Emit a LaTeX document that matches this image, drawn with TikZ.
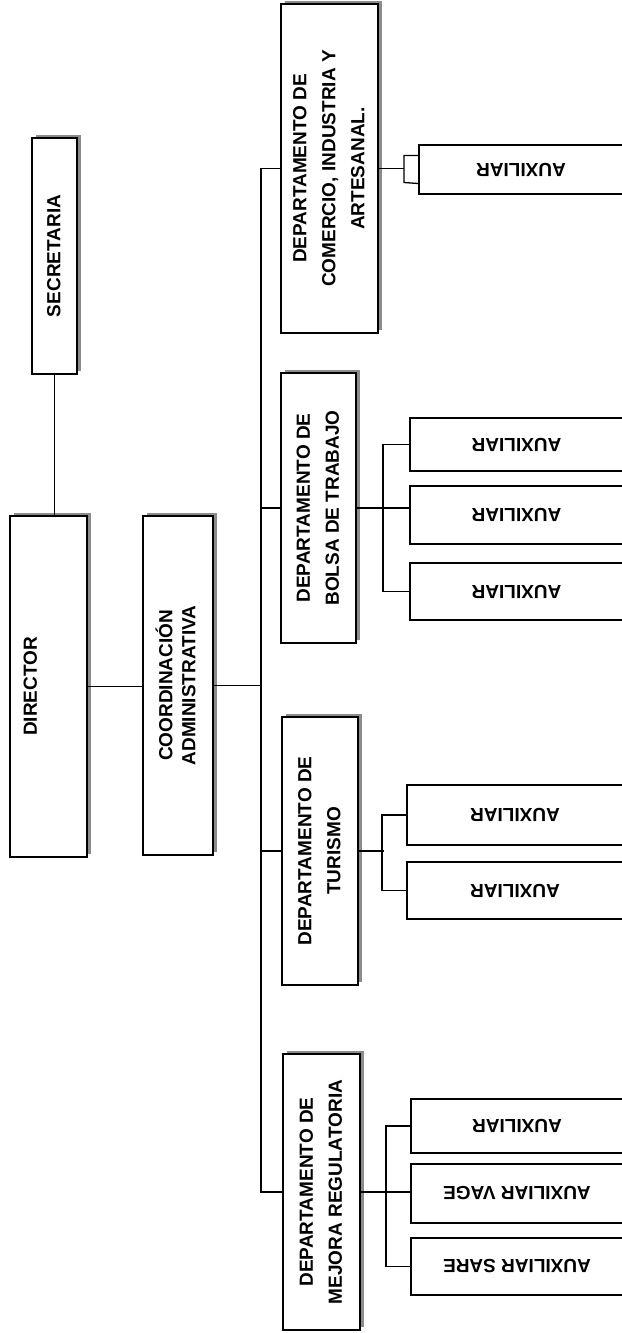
\documentclass[tikz,border=0pt]{standalone}
\usepackage{fontspec}
\setmainfont{Liberation Sans}
\usetikzlibrary{shadows}

% rotated box texts
\newcommand{\vlabel}[1]{\rotatebox{90}{\begin{tabular}{@{}c@{}}#1\end{tabular}}}
\newcommand{\flipped}[1]{\rotatebox{180}{#1}}

\tikzset{
  unitbox/.style={draw, line width=1.8pt, fill=white, inner sep=0pt,
    font=\bfseries\fontsize{19}{29}\selectfont,
    drop shadow={shadow xshift=3.5pt, shadow yshift=3.5pt, fill=black!45, opacity=1}},
  auxbox/.style={draw, line width=1.8pt, fill=white, inner sep=0pt,
    font=\bfseries\fontsize{19}{29}\selectfont},
  link/.style={line width=1.3pt}
}

\begin{document}
\begin{tikzpicture}[x=1pt, y=-1pt]
			\useasboundingbox (0,0) rectangle (621,1333);
			
			% top levels
			\node[unitbox, minimum width=45, minimum height=236] (sec) at (54.5,256) {\vlabel{SECRETARIA}};
			\node[unitbox, minimum width=77, minimum height=341] (dir) at (48.5,686.5) {\vlabel{DIRECTOR}\hspace*{35pt}};
			\node[unitbox, minimum width=70, minimum height=339] (coord) at (178,685.5) {\vlabel{COORDINACIÓN\\[-6pt]ADMINISTRATIVA}};
			
			% departments
			\node[unitbox, minimum width=97, minimum height=329] (com) at (329.5,168.5) {\vlabel{DEPARTAMENTO DE\\COMERCIO, INDUSTRIA Y\\ARTESANAL.}};
			\node[unitbox, minimum width=75, minimum height=270] (bol) at (318.5,508) {\vlabel{DEPARTAMENTO DE\\BOLSA DE TRABAJO}};
			\node[unitbox, minimum width=76, minimum height=268] (tur) at (320,851) {\vlabel{DEPARTAMENTO DE\\TURISMO}};
			\node[unitbox, minimum width=77, minimum height=276] (mej) at (321.5,1192) {\vlabel{DEPARTAMENTO DE\\MEJORA REGULATORIA}};
			
			% auxiliaries
			\node[auxbox, minimum width=204, minimum height=49] (c1) at (521,169.5) {\flipped{AUXILIAR}};
			
			\node[auxbox, minimum width=213, minimum height=53] (b1) at (516.5,444.5) {\flipped{AUXILIAR}};
			\node[auxbox, minimum width=213, minimum height=58] (b2) at (516.5,515) {\flipped{AUXILIAR}};
			\node[auxbox, minimum width=213, minimum height=57] (b3) at (516.5,591.5) {\flipped{AUXILIAR}};
			
			\node[auxbox, minimum width=216, minimum height=60] (t1) at (515,815) {\flipped{AUXILIAR}};
			\node[auxbox, minimum width=216, minimum height=57] (t2) at (515,890.5) {\flipped{AUXILIAR}};
			
			\node[auxbox, minimum width=212, minimum height=54] (m1) at (517,1126) {\flipped{AUXILIAR}};
			\node[auxbox, minimum width=212, minimum height=59] (m2) at (517,1193.5) {\flipped{AUXILIAR VAGE}};
			\node[auxbox, minimum width=212, minimum height=57] (m3) at (517,1266.5) {\flipped{AUXILIAR SARE}};
			
			% lines
			\coordinate (bus) at (261,0);
			\draw[link] (sec.south) -- (sec.south |- dir.north);
			\draw[link] (dir.east) -- (dir.east -| coord.west);
			\draw[link] (coord.east) -- (coord.east -| bus);
			\draw[link] (com.west) -| (bus |- mej.west) -- (mej.west);
			\draw[link] (bol.west) -- (bol.west -| bus);
			\draw[link] (tur.west) -- (tur.west -| bus);
			
			\draw[link] (com.east) -- ++(25,0) coordinate (cj);
			\draw[link] ([yshift=14pt]c1.west) -| ([yshift=-14pt]cj) -- ([yshift=-14pt]c1.west);
			
			\draw[link] (bol.east) -- (bol.east -| b2.west);
			\draw[link] (b1.west) -- ++(-26,0) |- (b3.west);
			
			\draw[link] (tur.east) -- ++(25,0);
			\draw[link] (t1.west) -- ++(-24,0) |- (t2.west);
			
			\draw[link] (mej.east) -- (mej.east -| m2.west);
			\draw[link] (m1.west) -- ++(-24,0) |- (m3.west);
		\end{tikzpicture}
\end{document}
